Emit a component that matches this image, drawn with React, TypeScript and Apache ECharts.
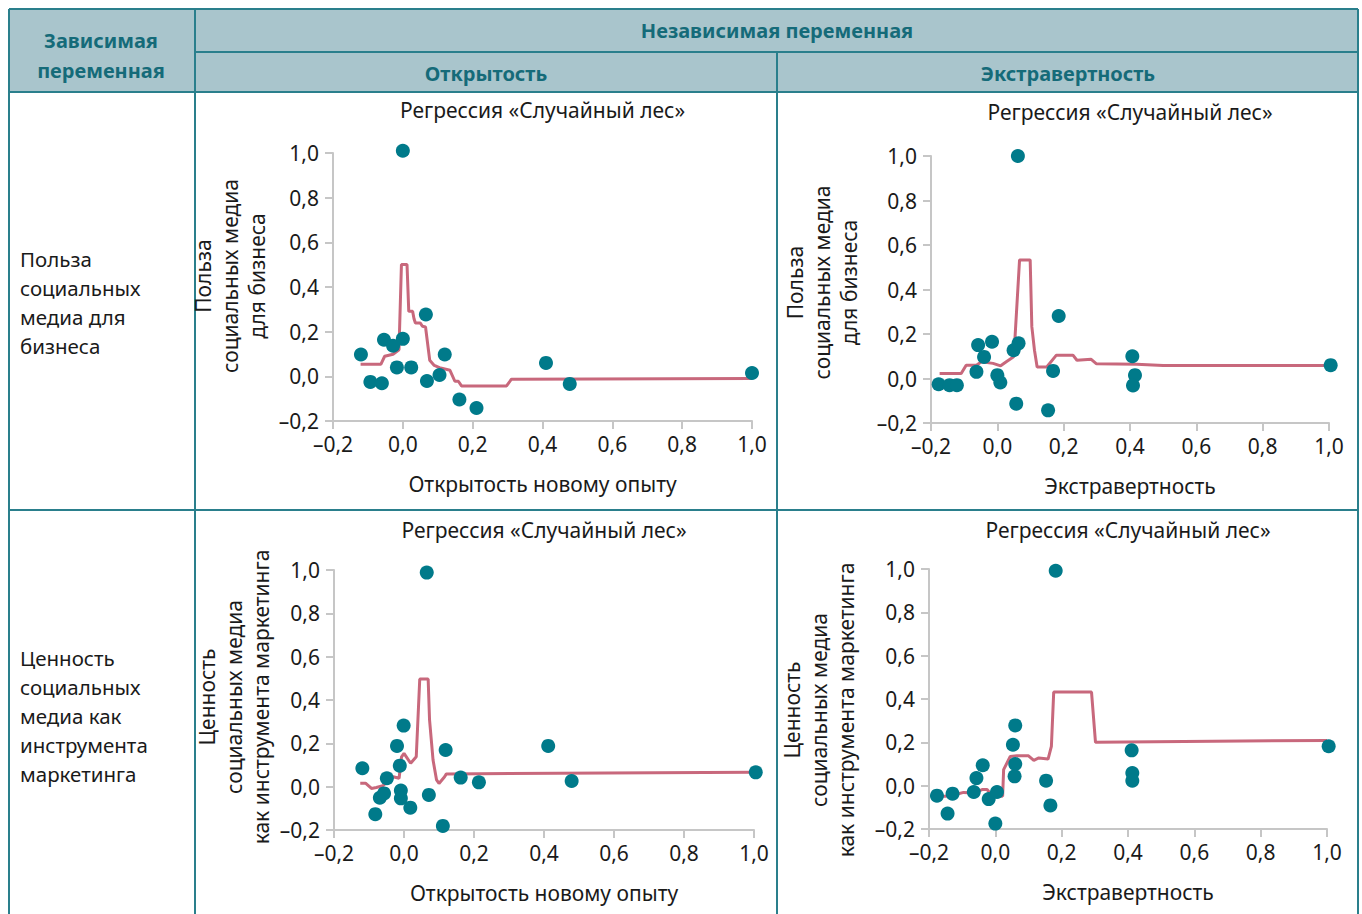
import React, { useEffect, useRef } from "react";
import * as echarts from "echarts";

const FONT = '"Noto Sans", "Open Sans", sans-serif';
const DOT = "#007a8a";
const LINE = "#c8687c";
const AXIS = "#c6c6c6";
const TXT = "#1a1a1a";
const BORDER = "#2a7f8c";
const HEAD_BG = "#a9c5cc";
const HEAD_TXT = "#156b79";

// ---------- data ----------
const rowLabels = ["Польза\nсоциальных\nмедиа для\nбизнеса", "Ценность\nсоциальных\nмедиа как\nинструмента\nмаркетинга"];
const colLabels = ["Открытость", "Экстравертность"];
const xNames = ["Открытость новому опыту", "Экстравертность"];
const yNames = ["Польза\nсоциальных медиа\nдля бизнеса", "Ценность\nсоциальных медиа\nкак инструмента маркетинга"];
const panelTitle = "Регрессия «Случайный лес»";

// Panel 1: Openness vs business usefulness
const p1X = [0.0, -0.12, -0.093, -0.06, -0.054, -0.028, 0.0, -0.017, 0.024, 0.066, 0.069, 0.105, 0.12, 0.162, 0.211, 0.41, 0.478, 1.0];
const p1Y = [1.01, 0.098, -0.025, -0.031, 0.164, 0.137, 0.168, 0.04, 0.04, 0.277, -0.021, 0.006, 0.098, -0.104, -0.142, 0.06, -0.034, 0.015];
const p1LX = [-0.121, -0.063, -0.052, -0.028, -0.011, -0.004, 0.012, 0.017, 0.028, 0.032, 0.036, 0.05, 0.056, 0.065, 0.077, 0.09, 0.105, 0.135, 0.149, 0.159, 0.168, 0.297, 0.311, 1.0];
const p1LY = [0.054, 0.054, 0.09, 0.099, 0.119, 0.501, 0.501, 0.291, 0.291, 0.258, 0.239, 0.239, 0.224, 0.221, 0.072, 0.049, 0.039, 0.027, -0.022, -0.022, -0.043, -0.043, -0.013, -0.01];

// Panel 2: Extraversion vs business usefulness
const p2X = [0.062, -0.177, -0.144, -0.122, -0.058, -0.063, -0.04, -0.016, 0.0, 0.009, 0.049, 0.064, 0.057, 0.153, 0.168, 0.185, 0.407, 0.415, 0.409, 1.005];
const p2Y = [1.0, -0.026, -0.03, -0.03, 0.15, 0.03, 0.097, 0.165, 0.015, -0.018, 0.127, 0.158, -0.113, -0.143, 0.034, 0.281, 0.1, 0.015, -0.031, 0.06];
const p2LX = [-0.174, -0.109, -0.094, -0.063, -0.048, -0.013, 0.01, 0.027, 0.047, 0.05, 0.067, 0.099, 0.104, 0.112, 0.12, 0.149, 0.178, 0.228, 0.24, 0.283, 0.299, 0.42, 0.5, 1.0];
const p2LY = [0.022, 0.022, 0.06, 0.06, 0.075, 0.068, 0.057, 0.075, 0.095, 0.1, 0.533, 0.533, 0.233, 0.127, 0.052, 0.052, 0.105, 0.105, 0.082, 0.086, 0.066, 0.064, 0.058, 0.058];

// Panel 3: Openness vs marketing value
const p3X = [0.065, -0.119, -0.082, -0.069, -0.057, -0.049, -0.02, -0.012, -0.009, -0.009, -0.001, 0.018, 0.071, 0.119, 0.111, 0.162, 0.214, 0.412, 0.479, 1.005];
const p3Y = [0.988, 0.085, -0.127, -0.051, -0.031, 0.039, 0.188, 0.097, -0.018, -0.054, 0.282, -0.097, -0.038, 0.169, -0.181, 0.042, 0.02, 0.188, 0.026, 0.066];
const p3LX = [-0.125, -0.11, -0.093, -0.079, -0.06, -0.031, -0.014, -0.007, 0.0, 0.019, 0.035, 0.045, 0.069, 0.073, 0.083, 0.093, 0.1, 0.116, 0.121, 1.0];
const p3LY = [0.016, 0.016, -0.008, -0.004, 0.005, 0.046, 0.039, 0.138, 0.154, 0.108, 0.138, 0.497, 0.497, 0.308, 0.123, 0.031, 0.015, 0.046, 0.059, 0.066];

// Panel 4: Extraversion vs marketing value
const p4X = [0.182, -0.176, -0.144, -0.129, -0.065, -0.057, -0.038, -0.02, 0.005, 0.0, 0.053, 0.06, 0.06, 0.058, 0.153, 0.166, 0.411, 0.413, 0.413, 1.005];
const p4Y = [0.992, -0.046, -0.129, -0.037, -0.029, 0.035, 0.094, -0.062, -0.029, -0.175, 0.189, 0.278, 0.1, 0.043, 0.023, -0.091, 0.163, 0.058, 0.023, 0.182];
const p4LX = [-0.18, -0.151, -0.111, -0.096, -0.065, -0.04, -0.025, -0.012, 0.022, 0.025, 0.045, 0.065, 0.1, 0.116, 0.131, 0.159, 0.169, 0.176, 0.29, 0.302, 1.0];
const p4LY = [-0.049, -0.049, -0.037, -0.031, -0.034, -0.018, -0.018, -0.042, -0.049, 0.074, 0.135, 0.138, 0.138, 0.117, 0.128, 0.123, 0.181, 0.432, 0.432, 0.2, 0.209];

const axisMin = -0.2;
const axisMax = 1.0;
const axisStep = 0.2;

const zip = (xs: number[], ys: number[]) => xs.map((x, i) => [x, ys[i]]);

const panels = [
  { pts: zip(p1X, p1Y), line: zip(p1LX, p1LY), xName: xNames[0], yName: yNames[0] },
  { pts: zip(p2X, p2Y), line: zip(p2LX, p2LY), xName: xNames[1], yName: yNames[0] },
  { pts: zip(p3X, p3Y), line: zip(p3LX, p3LY), xName: xNames[0], yName: yNames[1] },
  { pts: zip(p4X, p4Y), line: zip(p4LX, p4LY), xName: xNames[1], yName: yNames[1] },
];

// layout (pixels)
const grids = [
  { left: 333, top: 153, width: 419, height: 268, yGap: 63, yPad: [0, 0, 0, 22], titleY: 110 },
  { left: 931, top: 156, width: 398, height: 267, yGap: 69, yPad: [0, 0, 0, 14], titleY: 112 },
  { left: 334, top: 570, width: 420, height: 260, yGap: 60, yPad: [0, 0, 0, 6], titleY: 530 },
  { left: 929, top: 569, width: 398, height: 260, yGap: 70, yPad: [0, 22, 0, 0], titleY: 530 },
];

const fmt = (v: number) => {
  const r = Math.round(v * 10) / 10;
  const s = Math.abs(r).toFixed(1).replace(".", ",");
  return r < 0 ? "–" + s : s;
};

function buildOption() {
  const textStyle = { fontFamily: FONT, fontSize: 21, color: TXT };
  const xAxis = grids.map((g, i) => ({
    gridIndex: i,
    type: "value",
    min: axisMin,
    max: axisMax,
    interval: axisStep,
    name: panels[i].xName,
    nameLocation: "middle",
    nameGap: 52,
    nameTextStyle: { ...textStyle },
    axisLine: { show: true, onZero: false, lineStyle: { color: AXIS, width: 2 } },
    axisTick: { show: true, length: 8, lineStyle: { color: AXIS, width: 2 } },
    splitLine: { show: false },
    axisLabel: { ...textStyle, margin: 12, formatter: fmt },
  }));
  const yAxis = grids.map((g, i) => ({
    gridIndex: i,
    type: "value",
    min: axisMin,
    max: axisMax,
    interval: axisStep,
    name: panels[i].yName,
    nameLocation: "middle",
    nameRotate: 90,
    nameGap: g.yGap,
    nameTextStyle: { ...textStyle, lineHeight: 27, padding: g.yPad },
    axisLine: { show: true, onZero: false, lineStyle: { color: AXIS, width: 2 } },
    axisTick: { show: true, length: 8, lineStyle: { color: AXIS, width: 2 } },
    splitLine: { show: false },
    axisLabel: { ...textStyle, margin: 14, formatter: fmt },
  }));
  const series: any[] = [];
  panels.forEach((p, i) => {
    series.push({
      type: "line",
      xAxisIndex: i,
      yAxisIndex: i,
      data: p.line,
      showSymbol: false,
      symbol: "none",
      lineStyle: { color: LINE, width: 3 },
      z: 2,
    });
    series.push({
      type: "scatter",
      xAxisIndex: i,
      yAxisIndex: i,
      data: p.pts,
      symbolSize: 14,
      clip: false,
      itemStyle: { color: DOT, opacity: 1 },
      z: 3,
    });
  });

  const L = { stroke: BORDER, lineWidth: 2 };
  const hline = (x1: number, x2: number, y: number) => ({ type: "line", shape: { x1, y1: y, x2, y2: y }, style: L, silent: true });
  const vline = (x: number, y1: number, y2: number) => ({ type: "line", shape: { x1: x, y1, x2: x, y2 }, style: L, silent: true });
  const headText = (text: string, x: number, y: number) => ({
    type: "text",
    x,
    y,
    style: { text, fill: HEAD_TXT, fontFamily: FONT, fontSize: 20, fontWeight: "bold", align: "center", verticalAlign: "middle", lineHeight: 30 },
  });
  const bodyText = (text: string, x: number, y: number) => ({
    type: "text",
    x,
    y,
    style: { text, fill: TXT, fontFamily: FONT, fontSize: 20.5, align: "left", verticalAlign: "middle", lineHeight: 29 },
  });

  const graphic: any[] = [
    { type: "rect", shape: { x: 9, y: 9, width: 1349, height: 83 }, style: { fill: HEAD_BG }, silent: true },
    hline(9, 1358, 9),
    hline(195, 1358, 52),
    hline(9, 1358, 92),
    hline(9, 1358, 510),
    vline(9, 9, 914),
    vline(1358, 9, 914),
    vline(195, 9, 914),
    vline(777, 52, 914),
    headText("Зависимая\nпеременная", 101, 55),
    headText("Независимая переменная", 777, 30),
    headText(colLabels[0], 486, 73),
    headText(colLabels[1], 1068, 73),
    bodyText(rowLabels[0], 20, 302),
    bodyText(rowLabels[1], 20, 716),
  ];
  grids.forEach((g) => {
    graphic.push({
      type: "text",
      x: g.left + g.width / 2,
      y: g.titleY,
      style: { text: panelTitle, fill: TXT, fontFamily: FONT, fontSize: 21, align: "center", verticalAlign: "middle" },
    });
  });

  return {
    animation: false,
    backgroundColor: "#ffffff",
    grid: grids.map((g) => ({ left: g.left, top: g.top, width: g.width, height: g.height, containLabel: false })),
    xAxis,
    yAxis,
    series,
    graphic,
  };
}

export default function App() {
  const ref = useRef<HTMLDivElement>(null);
  useEffect(() => {
    if (!ref.current) return;
    const chart = echarts.init(ref.current, undefined, { renderer: "svg" });
    chart.setOption(buildOption() as any);
    return () => chart.dispose();
  }, []);
  return <div ref={ref} style={{ position: "absolute", left: 0, top: 0, width: 1362, height: 914 }} />;
}
